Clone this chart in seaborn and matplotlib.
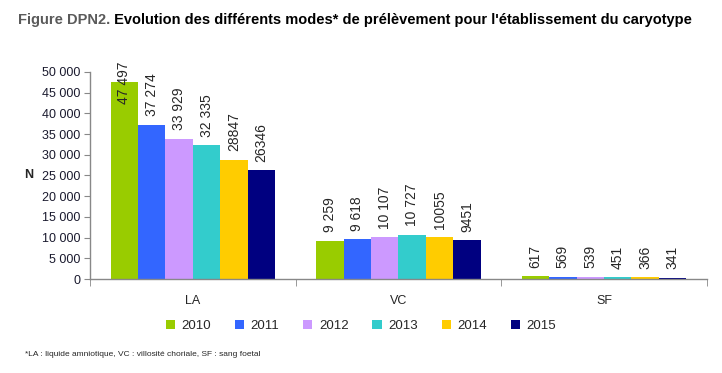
import pandas as pd
import matplotlib
matplotlib.use("Agg")
import matplotlib.pyplot as plt
import seaborn as sns
from matplotlib.ticker import FuncFormatter

# data
modes = ["LA", "VC", "SF"]
years = ["2010", "2011", "2012", "2013", "2014", "2015"]
la_values = [47497, 37274, 33929, 32335, 28847, 26346]
vc_values = [9259, 9618, 10107, 10727, 10055, 9451]
sf_values = [617, 569, 539, 451, 366, 341]
la_labels = ["47 497", "37 274", "33 929", "32 335", "28847", "26346"]
vc_labels = ["9 259", "9 618", "10 107", "10 727", "10055", "9451"]
sf_labels = ["617", "569", "539", "451", "366", "341"]
colors = ["#99CC00", "#3366FF", "#CC99FF", "#33CCCC", "#FFCC00", "#000080"]

rows = []
for mode, vals, labs in zip(modes, [la_values, vc_values, sf_values], [la_labels, vc_labels, sf_labels]):
    for y, v, l in zip(years, vals, labs):
        rows.append({"mode": mode, "year": y, "n": v, "label": l})
df = pd.DataFrame(rows)

sns.set_style("white")
plt.rcParams["font.family"] = ["Liberation Sans", "DejaVu Sans"]

fig = plt.figure(figsize=(7.22, 3.73), dpi=100)
ax = fig.add_axes([0.1247, 0.252, 0.979 - 0.1247, 0.807 - 0.252])

sns.barplot(data=df, x="mode", y="n", hue="year", palette=colors,
            order=modes, hue_order=years, width=0.8, saturation=1,
            linewidth=0, ax=ax, legend=True)

# value labels, rotated like the original
for cont, y in zip(ax.containers, years):
    sub = df[df["year"] == y].set_index("mode").loc[modes]
    for bar, val, lab in zip(cont, sub["n"], sub["label"]):
        x = bar.get_x() + bar.get_width() / 2
        if val > 45000:
            ax.annotate(lab, (x, val), xytext=(0, 0), textcoords="offset points",
                        rotation=90, ha="center", va="center", fontsize=10,
                        annotation_clip=False)
        else:
            ax.annotate(lab, (x, val), xytext=(0, 6), textcoords="offset points",
                        rotation=90, ha="center", va="bottom", fontsize=10)

ax.set_ylim(0, 50000)
ax.set_xlim(-0.5, 2.5)
ax.set_yticks(range(0, 50001, 5000))
ax.yaxis.set_major_formatter(FuncFormatter(lambda v, p: f"{int(v):,}".replace(",", " ")))
ax.set_xlabel("")
ax.set_ylabel("N", rotation=0, fontsize=9, fontweight="bold", labelpad=8, va="center")
ax.yaxis.set_label_coords(-0.1, 0.5)

for s in ["top", "right"]:
    ax.spines[s].set_visible(False)
for s in ["left", "bottom"]:
    ax.spines[s].set_color("#888888")
    ax.spines[s].set_linewidth(1)

ax.tick_params(axis="y", which="major", left=True, length=4, color="#888888",
               labelsize=9, labelcolor="#1a1a2e", pad=3)
ax.tick_params(axis="x", which="major", bottom=False, labelsize=9, pad=8)
ax.set_xticks([-0.5, 0.5, 1.5, 2.5], minor=True)
ax.tick_params(axis="x", which="minor", bottom=True, length=5, color="#888888")

leg = ax.legend(loc="center", bbox_to_anchor=(0.5, 0.126), bbox_transform=fig.transFigure,
                ncol=6, frameon=False, fontsize=9.5, handlelength=0.7, handleheight=0.7,
                columnspacing=1.8, handletextpad=0.5)

t1 = fig.text(18 / 722, 1 - 20 / 373, "Figure DPN2.", color="#5a5a5a", fontsize=10.5,
              fontweight="bold", va="center")
fig.canvas.draw()
ax.annotate(" Evolution des différents modes* de prélèvement pour l'établissement du caryotype",
            xy=(1, 0.5), xycoords=t1, va="center", ha="left", fontsize=10.5,
            fontweight="bold", color="black")

fig.text(25 / 722, 1 - 355 / 373, "*LA : liquide amniotique, VC : villosité choriale, SF : sang foetal",
         fontsize=6, va="center")

fig.savefig("out.png", dpi=100)
